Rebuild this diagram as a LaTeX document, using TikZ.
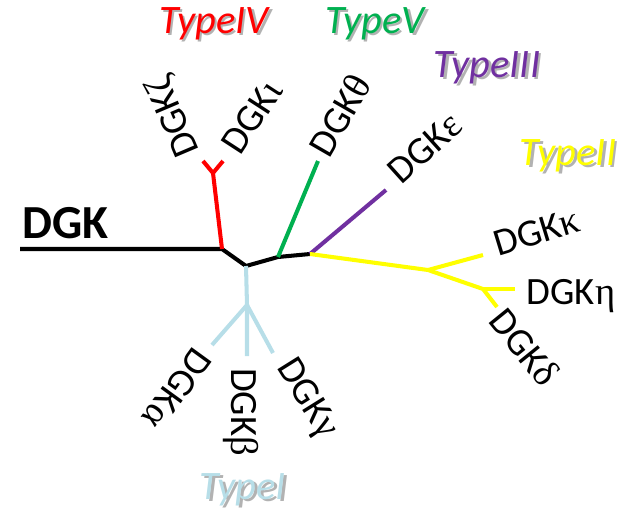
\documentclass[tikz,border=0pt]{standalone}
\usepackage{fontspec}
\setmainfont{Carlito}
\newfontfamily\greekfont{Liberation Serif}
\usetikzlibrary{positioning}

\definecolor{typeone}{RGB}{183,222,232}
\definecolor{typetwo}{RGB}{255,255,0}
\definecolor{typethree}{RGB}{112,48,160}
\definecolor{typefour}{RGB}{255,0,0}
\definecolor{typefive}{RGB}{0,176,80}

\newcommand{\gk}[1]{{\greekfont #1}}
\newcommand{\shadowed}[2]{\makebox[0pt][l]{\hspace{1.4pt}\raisebox{-1.4pt}{\textcolor{black!30}{#2}}}\textcolor{#1}{#2}}

\tikzset{
  branch/.style={line width=2.3pt},
  gene/.style={font=\fontsize{22}{26}\selectfont, inner sep=0pt},
  family/.style={font=\fontsize{23}{27}\selectfont\itshape, inner sep=0pt},
}

\begin{document}
\begin{tikzpicture}[x=0.02cm, y=-0.02cm]
    \useasboundingbox (0,0) rectangle (625,507);

    % tree points
    \coordinate (root) at (20,249);
    \coordinate (a) at (222,249);
    \coordinate (b) at (246,266);
    \coordinate (c) at (278,257);
    \coordinate (d) at (310,254);
    \coordinate (rf) at (213,173);
    \coordinate (zeta) at (203,161);
    \coordinate (iota) at (223,161);
    \coordinate (theta) at (318,161);
    \coordinate (eps) at (386,190);
    \coordinate (yf) at (428,270);
    \coordinate (kappa) at (483,255);
    \coordinate (yg) at (483,289);
    \coordinate (eta) at (515,289);
    \coordinate (delta) at (497,307);
    \coordinate (lf) at (247,305);
    \coordinate (alpha) at (212,345);
    \coordinate (beta) at (247,356);
    \coordinate (gamma) at (273,353);

    % branches
    \draw[branch] (root) -- (a) -- (b) -- (c) -- (d);
    \draw[branch, typefour] (a) -- (rf);
    \draw[branch, typefour] (zeta) -- (rf) -- (iota);
    \draw[branch, typefive] (c) -- (theta);
    \draw[branch, typethree] (d) -- (eps);
    \draw[branch, typetwo] (d) -- (yf) -- (yg) -- (delta);
    \draw[branch, typetwo] (yf) -- (kappa);
    \draw[branch, typetwo] (yg) -- (eta);
    \draw[branch, typeone] (b) -- (lf) -- (beta);
    \draw[branch, typeone] (alpha) -- (lf) -- (gamma);

    % labels
    \node[font=\fontsize{27}{31}\selectfont\bfseries, inner sep=0pt, anchor=base west] (dgk) at (22,238) {DGK};
    \node[gene, rotate=113] (lzeta) at (174,116) {DGK\gk{ζ}};
    \node[gene, rotate=57] (liota) at (252,117) {DGK\gk{ι}};
    \node[gene, rotate=60] (ltheta) at (340,115) {DGK\gk{θ}};
    \node[gene, rotate=42] (leps) at (425,148) {DGK\gk{ε}};
    \node[gene, rotate=17] (lkappa) at (537,232) {DGK\gk{κ}};
    \node[gene] (leta) at (571,296) {DGK\gk{η}};
    \node[gene, rotate=-51] (ldelta) at (525,347) {DGK\gk{δ}};
    \node[gene, rotate=234] (lalpha) at (177,389) {DGK\gk{α}};
    \node[gene, rotate=-90] (lbeta) at (241,412) {DGK\gk{β}};
    \node[gene, rotate=-58] (lgamma) at (306,399) {DGK\gk{γ}};

    \node[family] (t4) at (214,25) {\shadowed{typefour}{TypeIV}};
    \node[family] (t5) at (375,25) {\shadowed{typefive}{TypeV}};
    \node[family] (t3) at (487,69) {\shadowed{typethree}{TypeIII}};
    \node[family] (t2) at (568,157) {\shadowed{typetwo}{TypeII}};
    \node[family] (t1) at (243,491) {\shadowed{typeone}{TypeI}};
\end{tikzpicture}
\end{document}
